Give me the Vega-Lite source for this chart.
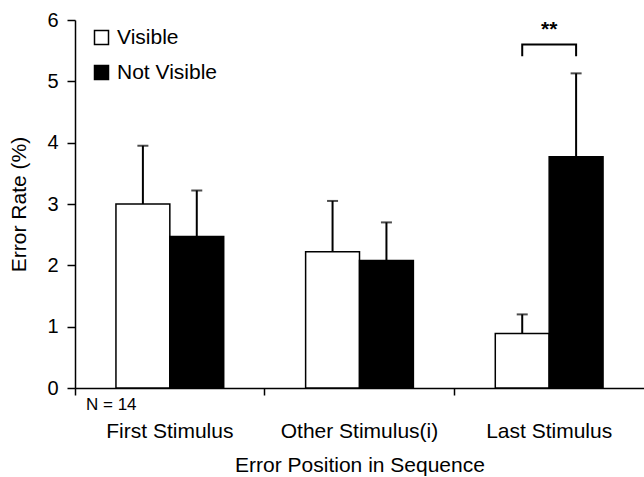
{
  "$schema": "https://vega.github.io/schema/vega-lite/v6.json",
  "width": 569,
  "height": 368,
  "autosize": {"type": "none"},
  "padding": {"left": 75, "top": 20, "right": 0, "bottom": 89},
  "config": {
    "font": "Liberation Sans",
    "view": {"stroke": null},
    "axis": {"domainColor": "black", "tickColor": "black", "labelColor": "black", "titleColor": "black", "grid": false, "titleFontWeight": "normal", "domainWidth": 1.5, "tickWidth": 1.5}
  },
  "datasets": {
    "bars": [
      {"pos": "First Stimulus", "grp": "Visible", "rate": 3.0, "upper": 3.95},
      {"pos": "First Stimulus", "grp": "Not Visible", "rate": 2.47, "upper": 3.22},
      {"pos": "Other Stimulus(i)", "grp": "Visible", "rate": 2.22, "upper": 3.05},
      {"pos": "Other Stimulus(i)", "grp": "Not Visible", "rate": 2.08, "upper": 2.7},
      {"pos": "Last Stimulus", "grp": "Visible", "rate": 0.89, "upper": 1.2},
      {"pos": "Last Stimulus", "grp": "Not Visible", "rate": 3.77, "upper": 5.13}
    ],
    "bracket": [
      {"pos": "Last Stimulus", "grp": "Visible", "y": 5.41, "o": 1},
      {"pos": "Last Stimulus", "grp": "Visible", "y": 5.6, "o": 2},
      {"pos": "Last Stimulus", "grp": "Not Visible", "y": 5.6, "o": 3},
      {"pos": "Last Stimulus", "grp": "Not Visible", "y": 5.41, "o": 4}
    ],
    "notes": [
      {"pos": "Last Stimulus", "y": 5.84, "txt": "**"}
    ],
    "nlab": [
      {"pos": "First Stimulus", "y": -0.28, "txt": "N = 14"}
    ]
  },
  "resolve": {"axis": {"x": "independent"}},
  "layer": [
    {
      "data": {"name": "bars"},
      "mark": {"type": "rule", "stroke": "black", "strokeWidth": 2},
      "encoding": {
        "x": {"field": "pos", "type": "nominal", "sort": ["First Stimulus", "Other Stimulus(i)", "Last Stimulus"],
          "scale": {"paddingInner": 0, "paddingOuter": 0},
          "axis": {"orient": "bottom", "bandPosition": 0, "labels": false, "domain": true, "ticks": true, "tickSize": 7, "title": null}},
        "xOffset": {"field": "grp", "type": "nominal", "sort": ["Visible", "Not Visible"], "scale": {"domain": ["Visible", "Not Visible"], "paddingInner": 0, "paddingOuter": 0.76}},
        "y": {"field": "rate", "type": "quantitative"},
        "y2": {"field": "upper"}
      }
    },
    {
      "data": {"name": "bars"},
      "mark": {"type": "tick", "orient": "horizontal", "size": 11, "thickness": 2, "color": "black"},
      "encoding": {
        "x": {"field": "pos", "type": "nominal", "sort": ["First Stimulus", "Other Stimulus(i)", "Last Stimulus"], "axis": null},
        "xOffset": {"field": "grp", "type": "nominal", "sort": ["Visible", "Not Visible"]},
        "y": {"field": "upper", "type": "quantitative"}
      }
    },
    {
      "data": {"name": "bars"},
      "mark": {"type": "bar", "stroke": "black", "strokeWidth": 1.5},
      "encoding": {
        "x": {"field": "pos", "type": "nominal", "sort": ["First Stimulus", "Other Stimulus(i)", "Last Stimulus"],
          "axis": {"orient": "bottom", "domain": false, "ticks": false, "labelPadding": 32, "labelFontSize": 21, "labelAngle": 0, "title": "Error Position in Sequence", "titleFontSize": 21, "titlePadding": 13}},
        "xOffset": {"field": "grp", "type": "nominal", "sort": ["Visible", "Not Visible"]},
        "y": {"field": "rate", "type": "quantitative",
          "scale": {"domain": [0, 6], "nice": false, "zero": true},
          "axis": {"values": [0, 1, 2, 3, 4, 5, 6], "format": "d", "tickSize": 8, "labelFontSize": 20, "labelPadding": 9, "title": "Error Rate (%)", "titleFontSize": 21, "titlePadding": 17}},
        "fill": {"field": "grp", "type": "nominal", "sort": ["Visible", "Not Visible"],
          "scale": {"domain": ["Visible", "Not Visible"], "range": ["white", "black"]},
          "legend": {"title": null, "orient": "none", "legendX": 16, "legendY": 7, "symbolType": "square", "symbolSize": 196, "symbolStrokeColor": "black", "symbolStrokeWidth": 1.5, "labelFontSize": 21, "labelColor": "black", "rowPadding": 13, "labelOffset": 5}}
      }
    },
    {
      "data": {"name": "bracket"},
      "mark": {"type": "line", "stroke": "black", "strokeWidth": 2},
      "encoding": {
        "x": {"field": "pos", "type": "nominal", "sort": ["First Stimulus", "Other Stimulus(i)", "Last Stimulus"], "axis": null},
        "xOffset": {"field": "grp", "type": "nominal", "sort": ["Visible", "Not Visible"]},
        "y": {"field": "y", "type": "quantitative"},
        "order": {"field": "o", "type": "quantitative"}
      }
    },
    {
      "data": {"name": "notes"},
      "mark": {"type": "text", "fontSize": 21, "fontWeight": "bold", "color": "black"},
      "encoding": {
        "x": {"field": "pos", "type": "nominal", "sort": ["First Stimulus", "Other Stimulus(i)", "Last Stimulus"], "axis": null},
        "y": {"field": "y", "type": "quantitative"},
        "text": {"field": "txt"}
      }
    },
    {
      "data": {"name": "nlab"},
      "mark": {"type": "text", "fontSize": 17, "color": "black", "align": "left", "dx": 11},
      "encoding": {
        "x": {"field": "pos", "type": "nominal", "sort": ["First Stimulus", "Other Stimulus(i)", "Last Stimulus"], "bandPosition": 0, "axis": null},
        "y": {"field": "y", "type": "quantitative"},
        "text": {"field": "txt"}
      }
    }
  ]
}
